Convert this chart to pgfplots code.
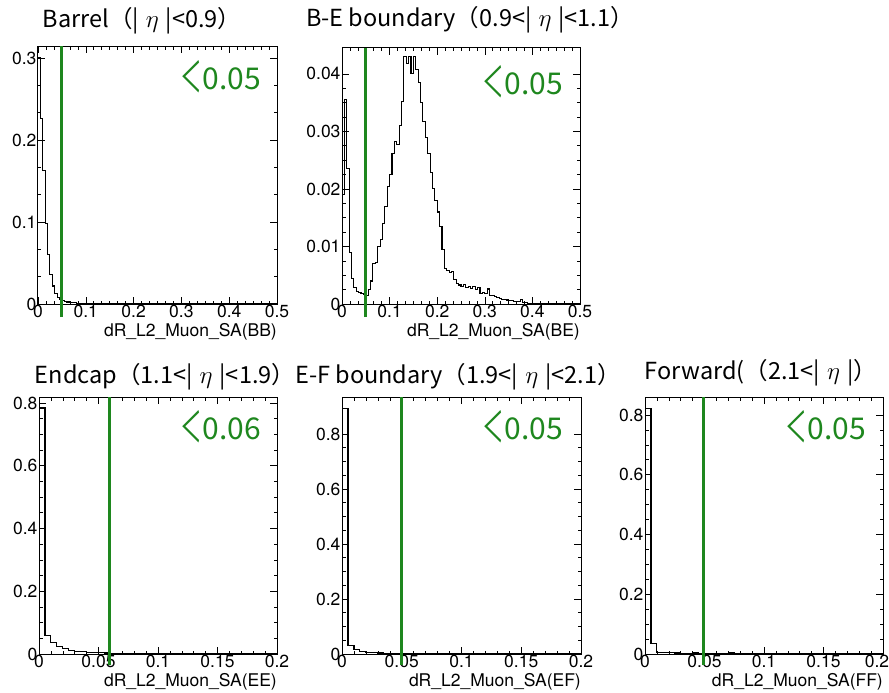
\documentclass[border=0pt]{standalone}
\usepackage{fontspec}
\setmainfont{TeX Gyre Heros}
\newfontfamily\cjk{Noto Sans CJK JP}
\usepackage{graphicx}
\usepackage{pgfplots}
\pgfplotsset{compat=1.18}
\usepackage{pgfplotstable}

\definecolor{cutgreen}{RGB}{30,135,30}

% bin left edge, normalised content (bin width 0.005)
\pgfplotstableread{
x y
0.000 0.300
0.005 0.226
0.010 0.163
0.015 0.098
0.020 0.060
0.025 0.036
0.030 0.022
0.035 0.013
0.040 0.008
0.045 0.0055
0.050 0.004
0.055 0.003
0.060 0.0025
0.065 0.002
0.070 0.0016
0.075 0.0013
0.080 0.0011
0.085 0.0009
0.090 0.0008
0.095 0.0007
0.100 0.0006
0.105 0.0005
0.110 0.0004
0.115 0.0004
0.120 0.0003
0.125 0.0003
0.130 0.0002
0.135 0.0002
0.140 0.0002
0.145 0.0001
0.150 0.0001
0.155 0.0001
0.160 0.0
0.500 0.0
}\bb

\pgfplotstableread{
x y
0.000 0.0190
0.005 0.0355
0.010 0.0235
0.015 0.0090
0.020 0.0045
0.025 0.0028
0.030 0.0022
0.035 0.0020
0.040 0.0018
0.045 0.0016
0.050 0.0014
0.055 0.0025
0.060 0.0040
0.065 0.0070
0.070 0.0072
0.075 0.0100
0.080 0.0112
0.085 0.0140
0.090 0.0170
0.095 0.0205
0.100 0.0225
0.105 0.0262
0.110 0.0282
0.115 0.0278
0.120 0.0310
0.125 0.0352
0.130 0.0430
0.135 0.0418
0.140 0.0430
0.145 0.0400
0.150 0.0430
0.155 0.0408
0.160 0.0385
0.165 0.0350
0.170 0.0318
0.175 0.0290
0.180 0.0262
0.185 0.0228
0.190 0.0200
0.195 0.0180
0.200 0.0160
0.205 0.0134
0.210 0.0094
0.215 0.0062
0.220 0.0058
0.225 0.0055
0.230 0.0056
0.235 0.0042
0.240 0.0036
0.245 0.0033
0.250 0.0030
0.255 0.0034
0.260 0.0028
0.265 0.0031
0.270 0.0027
0.275 0.0030
0.280 0.0025
0.285 0.0028
0.290 0.0019
0.295 0.0020
0.300 0.0018
0.305 0.0026
0.310 0.0015
0.315 0.0014
0.320 0.0013
0.325 0.0011
0.330 0.0009
0.335 0.0008
0.340 0.0008
0.345 0.0007
0.350 0.0006
0.355 0.0006
0.360 0.0005
0.365 0.0004
0.370 0.0004
0.375 0.0008
0.380 0.0003
0.385 0.0002
0.390 0.0001
0.395 0.0001
0.400 0.0
0.450 0.0001
0.455 0.0
0.480 0.0001
0.485 0.0
0.500 0.0
}\be

\pgfplotstableread{
x y
0.000 0.784
0.005 0.058
0.010 0.037
0.015 0.025
0.020 0.017
0.025 0.012
0.030 0.009
0.035 0.007
0.040 0.0055
0.045 0.0045
0.050 0.0038
0.055 0.0032
0.060 0.0027
0.065 0.0023
0.070 0.0020
0.075 0.0018
0.080 0.0016
0.085 0.0014
0.090 0.0012
0.095 0.0011
0.100 0.0010
0.110 0.0008
0.120 0.0007
0.130 0.0006
0.140 0.0005
0.150 0.0004
0.170 0.0003
0.200 0.0003
}\ee

\pgfplotstableread{
x y
0.000 0.893
0.005 0.030
0.010 0.016
0.015 0.010
0.020 0.006
0.025 0.0045
0.030 0.0035
0.035 0.0028
0.040 0.0022
0.045 0.0018
0.050 0.0015
0.060 0.0012
0.070 0.0010
0.080 0.0008
0.100 0.0006
0.130 0.0004
0.160 0.0003
0.200 0.0003
}\ef

\pgfplotstableread{
x y
0.000 0.822
0.005 0.034
0.010 0.006
0.015 0.005
0.020 0.004
0.025 0.0035
0.030 0.0032
0.035 0.0030
0.040 0.0034
0.045 0.0030
0.050 0.0028
0.055 0.0032
0.060 0.0030
0.065 0.0027
0.070 0.0034
0.075 0.0029
0.080 0.0026
0.085 0.0030
0.090 0.0028
0.095 0.0025
0.100 0.0031
0.110 0.0027
0.120 0.0029
0.130 0.0025
0.140 0.0030
0.150 0.0026
0.160 0.0028
0.170 0.0024
0.180 0.0027
0.190 0.0025
0.200 0.0025
}\ff

\pgfplotsset{
  rootstyle/.style={
    scale only axis,
    tick align=inside,
    tick pos=both,
    major tick length=7pt,
    minor tick length=3.5pt,
    every tick/.style={black, line width=0.6pt},
    axis line style={black, line width=1pt},
    xmin=0, ymin=0,
    clip=false,
    tick label style={font=\fontsize{17.5}{20}\selectfont},
    /pgf/number format/assume math mode=true,
    scaled ticks=false,
    yticklabel style={/pgf/number format/fixed, /pgf/number format/precision=3, xshift=2pt},
    xticklabel style={/pgf/number format/fixed, /pgf/number format/precision=3, yshift=2pt},
    x label style={at={(axis description cs:1,0)}, anchor=north east,
      yshift=-19pt, inner sep=0pt, font=\fontsize{17.5}{18}\selectfont},
  },
  hist/.style={const plot, black, line width=1.1pt, no marks},
  cut/.style={cutgreen, line width=3pt, no marks},
}

\newcommand\abseta{|\hspace{0.3em}$\eta$\hspace{0.3em}|}
\newcommand\lt{\raisebox{-0.12em}{\scalebox{0.72}[1.4]{＜}}}

\begin{document}
\begin{tikzpicture}
\useasboundingbox (0,0) rectangle (889pt,-693pt);

% ---- Barrel
\begin{axis}[rootstyle, at={(38pt,-304pt)}, width=239pt, height=258pt,
  xmax=0.5, ymax=0.3146,
  xtick={0,0.1,0.2,0.3,0.4,0.5}, ytick={0,0.1,0.2,0.3},
  minor x tick num=5, minor y tick num=2,
  xlabel={dR\_L2\_Muon\_SA(BB)}]
\addplot[hist] table[x=x,y=y] {\bb};
\addplot[cut] coordinates {(0.05,-0.016) (0.05,0.3146)};
\end{axis}

% ---- B-E boundary
\begin{axis}[rootstyle, at={(342pt,-304pt)}, width=238pt, height=256pt,
  xmax=0.5, ymax=0.0445,
  xtick={0,0.1,0.2,0.3,0.4,0.5}, ytick={0,0.01,0.02,0.03,0.04},
  minor x tick num=5, minor y tick num=3,
  xlabel={dR\_L2\_Muon\_SA(BE)}]
\addplot[hist] table[x=x,y=y] {\be};
\addplot[cut] coordinates {(0.05,-0.0023) (0.05,0.0445)};
\end{axis}

% ---- Endcap
\begin{axis}[rootstyle, at={(39pt,-654pt)}, width=238pt, height=257pt,
  xmax=0.2, ymax=0.819,
  xtick={0,0.05,0.1,0.15,0.2}, ytick={0,0.2,0.4,0.6,0.8},
  minor x tick num=4, minor y tick num=3,
  xlabel={dR\_L2\_Muon\_SA(EE)}]
\addplot[hist] table[x=x,y=y] {\ee};
\addplot[cut] coordinates {(0.059,-0.035) (0.059,0.819)};
\end{axis}

% ---- E-F boundary
\begin{axis}[rootstyle, at={(342pt,-654pt)}, width=239pt, height=257pt,
  xmax=0.2, ymax=0.9345,
  xtick={0,0.05,0.1,0.15,0.2}, ytick={0,0.2,0.4,0.6,0.8},
  minor x tick num=4, minor y tick num=3,
  xlabel={dR\_L2\_Muon\_SA(EF)}]
\addplot[hist] table[x=x,y=y] {\ef};
\addplot[cut] coordinates {(0.0494,-0.04) (0.0494,0.9345)};
\end{axis}

% ---- Forward
\begin{axis}[rootstyle, at={(645pt,-654pt)}, width=238pt, height=257pt,
  xmax=0.2, ymax=0.86,
  xtick={0,0.05,0.1,0.15,0.2}, ytick={0,0.2,0.4,0.6,0.8},
  xticklabels={0,0.05,0.1,0.15,{\makebox[0pt]{\hspace{-12pt}0.2}}},
  minor x tick num=4, minor y tick num=3,
  xlabel={dR\_L2\_Muon\_SA(FF)}]
\addplot[hist] table[x=x,y=y] {\ff};
\addplot[cut] coordinates {(0.0488,-0.037) (0.0488,0.86)};
\end{axis}

% titles
\begin{scope}[every node/.style={font=\cjk\fontsize{23.5}{25}\selectfont, inner sep=0pt}]
\node at (142pt,-21pt) {Barrel（\abseta<0.9）};
\node at (470pt,-20pt) {B-E boundary（0.9<\abseta<1.1）};
\node at (165pt,-377pt) {Endcap（1.1<\abseta<1.9）};
\node at (458pt,-377pt) {E-F boundary（1.9<\abseta<2.1）};
\node at (761pt,-373pt) {Forward(（2.1<\abseta）};
\end{scope}

% cut values
\begin{scope}[every node/.style={font=\cjk\fontsize{30}{32}\selectfont, text=cutgreen, inner sep=0pt, anchor=east}]
\node at (261pt,-77pt) {\lt0.05};
\node at (563pt,-82pt) {\lt0.05};
\node at (261pt,-427pt) {\lt0.06};
\node at (563pt,-427pt) {\lt0.05};
\node at (866pt,-427pt) {\lt0.05};
\end{scope}
\end{tikzpicture}
\end{document}
